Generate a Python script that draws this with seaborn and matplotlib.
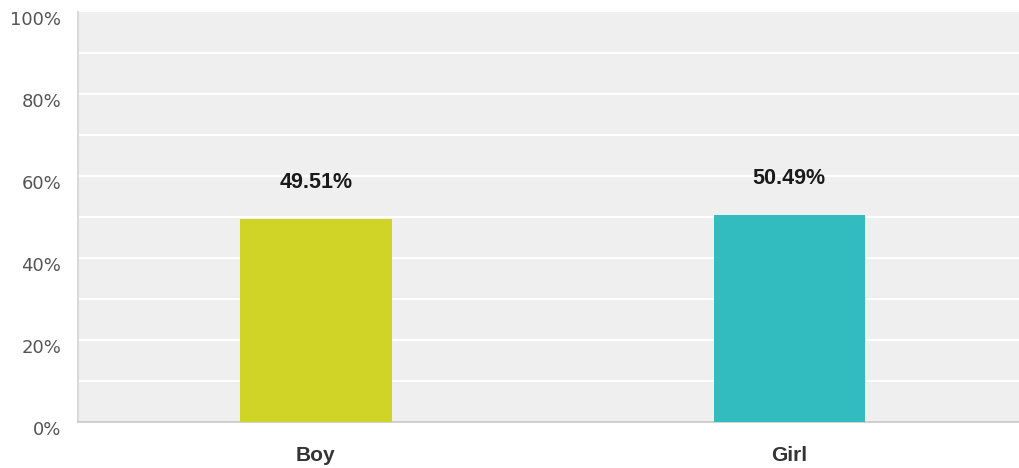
import numpy as np
import pandas as pd
import matplotlib
matplotlib.use('Agg')
import matplotlib.pyplot as plt
import matplotlib.transforms as mtransforms
import seaborn as sns

##################################################################
categories = ['Boy', 'Girl']
percent = [49.51, 50.49]
bar_colors = ['#cfd427', '#33bcbf']
yticks = [0, 20, 40, 60, 80, 100]
ytick_labels = ['0%', '20%', '40%', '60%', '80%', '100%']
##################################################################

sns.set_style('white')
plt.rcParams['font.family'] = ['Liberation Sans', 'DejaVu Sans']

df = pd.DataFrame({'cat': categories, 'pct': percent})

fig = plt.figure(figsize=[10.2, 4.68], dpi=100)
ax = fig.add_axes([0.0765, 0.0983, 0.9235, 0.876])
ax.set_facecolor('#efefef')

sns.barplot(data=df, x='cat', y='pct', hue='cat', palette=bar_colors,
            width=0.32, legend=False, ax=ax, saturation=1, zorder=3,
            linewidth=0)

# grid every 10%
for g in np.arange(10, 100, 10):
    ax.axhline(g, color='white', lw=1.6, zorder=1)

for i, v in enumerate(percent):
    ax.text(i, v + 8.9, '%.2f%%' % v, ha='center', va='center',
            fontsize=15.5, fontweight='bold', color='#1a1a1a', zorder=4)

ax.set_xlim(-0.502, 1.487)
ax.set_ylim(0, 100)
ax.set_yticks(yticks)
ax.set_yticklabels(ytick_labels, fontsize=13, color='#555555',
                   family='DejaVu Sans')
ax.set_xticks([0, 1])
ax.set_xticklabels(categories, fontsize=15, fontweight='bold', color='#333333')
ax.tick_params(axis='y', length=0, pad=12)
ax.tick_params(axis='x', length=0, pad=17)
ax.set_xlabel('')
ax.set_ylabel('')

# y labels sit a little below their value
shift = mtransforms.ScaledTranslation(0, -6 / 100, fig.dpi_scale_trans)
for lab in ax.get_yticklabels():
    lab.set_transform(lab.get_transform() + shift)

for s in ['top', 'right']:
    ax.spines[s].set_visible(False)
ax.spines['left'].set_color('#d9d9d9')
ax.spines['left'].set_linewidth(1.5)
ax.spines['bottom'].set_color('#c8c8c8')
ax.spines['bottom'].set_linewidth(1.2)

plt.savefig('out.png', dpi=100)
